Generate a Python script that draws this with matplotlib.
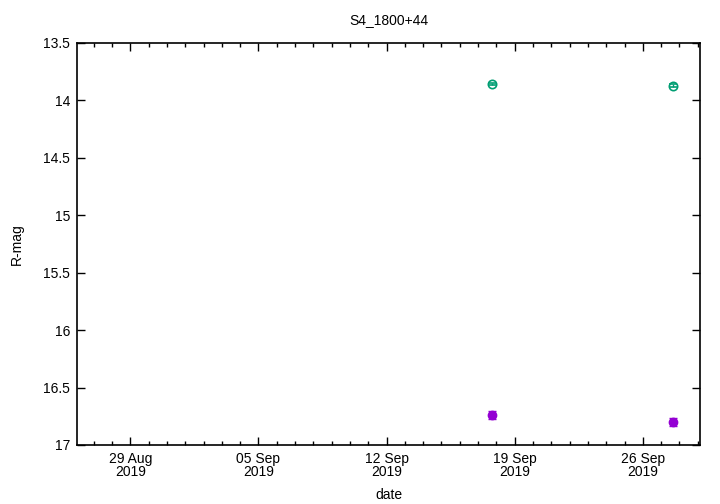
import matplotlib
matplotlib.use("Agg")
import matplotlib.pyplot as plt
import matplotlib.dates as mdates
import matplotlib.ticker as mticker
import numpy as np
from datetime import datetime

plt.rcParams['font.family'] = ['Liberation Sans', 'DejaVu Sans']

# data
dates_comp = ["2019-09-17 18:00", "2019-09-27 15:00"]
mag_comp = [13.857, 13.872]
err_comp = [0.012, 0.012]
dates_obj = ["2019-09-17 18:00", "2019-09-27 15:00"]
mag_obj = [16.74, 16.80]
err_obj = [0.035, 0.035]
xtick_dates = ["2019-08-29", "2019-09-05", "2019-09-12", "2019-09-19", "2019-09-26"]
title = "S4_1800+44"

t_comp = [datetime.strptime(d, "%Y-%m-%d %H:%M") for d in dates_comp]
t_obj = [datetime.strptime(d, "%Y-%m-%d %H:%M") for d in dates_obj]
t_ticks = [datetime.strptime(d, "%Y-%m-%d") for d in xtick_dates]

fig = plt.figure(figsize=(7.2, 5.04), dpi=100)
ax = fig.add_axes([77/720, 59/504, 623/720, 402/504])

ax.errorbar(t_comp, mag_comp, yerr=err_comp, fmt='o', mfc='none', mec='#009e73',
            ecolor='#009e73', ms=6, mew=1.2, capsize=3, elinewidth=1)
ax.errorbar(t_obj, mag_obj, yerr=err_obj, fmt='o', color='#9400d3',
            ecolor='#9400d3', ms=6, capsize=3, elinewidth=1)

ax.set_ylim(17, 13.5)
ax.set_yticks(np.arange(13.5, 17.01, 0.5))
ax.set_yticklabels(["13.5", "14", "14.5", "15", "15.5", "16", "16.5", "17"])
ax.set_xlim(datetime(2019, 8, 26, 2, 0), datetime(2019, 9, 29, 3, 0))
ax.xaxis.set_major_locator(mticker.FixedLocator(mdates.date2num(t_ticks)))
ax.xaxis.set_major_formatter(mdates.DateFormatter("%d %b\n%Y"))
ax.xaxis.set_minor_locator(mdates.DayLocator())
for lbl in ax.get_xticklabels():
    lbl.set_linespacing(0.95)

ax.tick_params(direction='in', top=True, right=True, labelsize=10, length=6, width=1, pad=5)
ax.tick_params(which='minor', direction='in', top=True, length=3, width=1)
for s in ax.spines.values():
    s.set_linewidth(1.2)

ax.set_xlabel("date", fontsize=10, labelpad=6)
ax.set_ylabel("R-mag", fontsize=10, labelpad=14)
ax.set_title(title, fontsize=10, pad=14)

fig.savefig("out.png", dpi=100)
